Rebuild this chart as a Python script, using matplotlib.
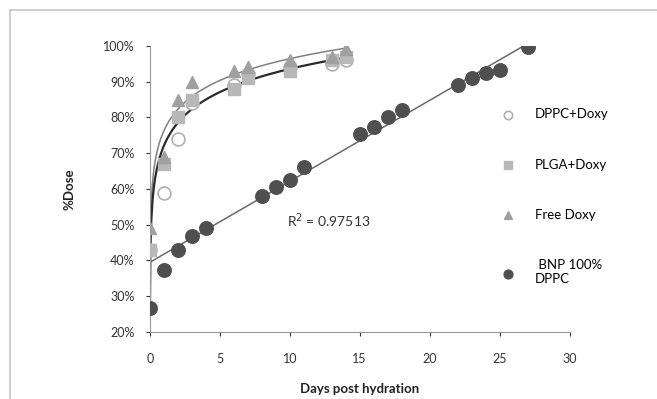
import numpy as np
import matplotlib.pyplot as plt
from matplotlib.lines import Line2D

plt.rcParams['font.family'] = ['Lato', 'DejaVu Sans']

# data (days, % dose)
bnp_x = [0, 1, 2, 3, 4, 8, 9, 10, 11, 15, 16, 17, 18, 22, 23, 24, 25, 27]
bnp_y = [26.7, 37.3, 43, 46.8, 49, 58, 60.6, 62.5, 66, 75.4, 77.3, 80, 82, 89, 91, 92.4, 93.3, 99.7]

dox_x = [0, 1, 2, 3, 6, 7, 10, 13, 14]
dppc_y = [43, 59, 74, 84, 89, 92, 94, 95, 96]
plga_y = [43, 67, 80, 85, 88, 91, 93, 96, 97]
free_y = [49, 69, 85, 90, 93, 94, 96, 97, 99]

r2_text = "R$^2$ = 0.97513"

fig = plt.figure(figsize=(6.57, 3.99), dpi=100)
ax = fig.add_axes([0.228, 0.168, 0.639, 0.717])

# outer frame (grey lines top/left)
fig.add_artist(Line2D([0.015, 1.0], [0.975, 0.975], transform=fig.transFigure, color='#c8c8c8', lw=1.2))
fig.add_artist(Line2D([0.015, 0.015], [0.0, 0.975], transform=fig.transFigure, color='#c8c8c8', lw=1.2))

# log trendlines for the doxy series
xs = np.linspace(0.006, 14, 400)
def log_fit(x, y):
    x = np.array(x, float)
    y = np.array(y, float)
    x[x == 0] = 0.04
    b, a = np.polyfit(np.log(x), y, 1)
    return a + b * np.log(xs)

ax.plot(xs, log_fit(dox_x, free_y), color='#808080', lw=1.1, zorder=2)
ax.plot(xs, log_fit(dox_x, plga_y), color='#2a2a2a', lw=1.6, zorder=2)

# linear trend for BNP (from day 1 on)
m, c = np.polyfit(bnp_x[1:], bnp_y[1:], 1)
lx = np.array([0, 27])
ax.plot(lx, m * lx + c, color='#6a6a6a', lw=1.1, zorder=2)

ax.scatter(dox_x, dppc_y, s=85, facecolor='white', edgecolor='#b0b0b0', lw=1.2, zorder=3, label='DPPC+Doxy')
ax.scatter(dox_x, plga_y, s=65, marker='s', color='#b8b8b8', zorder=3, label='PLGA+Doxy')
ax.scatter(dox_x, free_y, s=75, marker='^', color='#a0a0a0', zorder=3, label='Free Doxy')
ax.scatter(bnp_x, bnp_y, s=95, color='#4f4f4f', zorder=4, label=' BNP 100%\nDPPC')

ax.text(12.8, 51, r2_text, fontsize=10, color='#333333', ha='center', va='center')

ax.set_xlim(0, 30)
ax.set_ylim(20, 100)
ax.set_xticks(range(0, 31, 5))
ax.set_yticks(range(20, 101, 10))
ax.set_yticklabels([f"{v}%" for v in range(20, 101, 10)])
ax.tick_params(labelsize=9, colors='#333333', length=3, width=0.8)
ax.tick_params(axis='x', pad=12)
ax.tick_params(axis='y', pad=8)
for s in ['top', 'right']:
    ax.spines[s].set_visible(False)
for s in ['left', 'bottom']:
    ax.spines[s].set_color('#999999')

ax.set_xlabel('Days post hydration', fontsize=9.5, fontweight='bold', color='#222222', labelpad=13)
ax.set_ylabel('%Dose', fontsize=9.5, fontweight='bold', color='#222222', labelpad=20)

ax.legend(loc='upper left', bbox_to_anchor=(0.81, 0.80), frameon=False, fontsize=9.5,
          labelspacing=2.9, handletextpad=1.0, borderaxespad=0, markerscale=0.65)

fig.savefig('out.png', dpi=100, facecolor='white')
